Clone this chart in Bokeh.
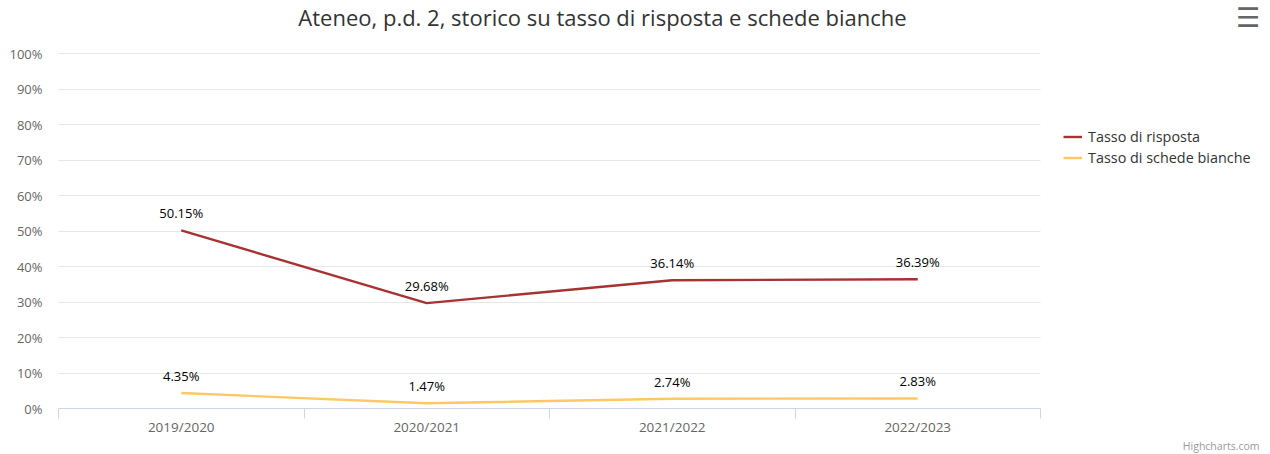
from bokeh.plotting import figure
from bokeh.models import (Range1d, FixedTicker, PrintfTickFormatter, Legend, LegendItem,
                          Label, Title, ColumnDataSource)
from bokeh.core.properties import value
from bokeh.embed import file_html
from bokeh.resources import INLINE

# ---- data ----
categories = ["2019/2020", "2020/2021", "2021/2022", "2022/2023"]
tasso_risposta = [50.15, 29.68, 36.14, 36.39]
tasso_bianche = [4.35, 1.47, 2.74, 2.83]
y_ticks = [0, 10, 20, 30, 40, 50, 60, 70, 80, 90, 100]
title_text = "Ateneo, p.d. 2, storico su tasso di risposta e schede bianche"
series_names = ["Tasso di risposta", "Tasso di schede bianche"]
credit_text = "Highcharts.com"

FONT = "Open Sans"
RED = "#a83232"
YEL = "#ffc864"

# ---- layout (pixels) ----
W, H = 1270, 454
LEFT, BOTTOM = 58, 46          # space for the y labels / x labels + credit
PLOT_W, PLOT_H = 982, 355      # the plotting area proper
n = len(categories)
band = PLOT_W / n
y_max = y_ticks[-1]
x_end = n - 0.5 + (W - LEFT - PLOT_W) / band                  # room for the legend on the right
y_end = y_max * (H - BOTTOM) / PLOT_H                          # room for the title on top

xs = list(range(n))

p = figure(width=W, height=H, output_backend="svg", toolbar_location=None,
           x_range=Range1d(-0.5, x_end), y_range=Range1d(0, y_end),
           min_border_left=LEFT, min_border_right=0, min_border_top=0, min_border_bottom=BOTTOM)
p.outline_line_color = None
p.background_fill_color = "white"
p.border_fill_color = "white"
p.grid.visible = False

# x axis: line and category separators limited to the plotting area
xa = p.xaxis[0]
xa.bounds = (-0.5, n - 0.5)
xa.ticker = FixedTicker(ticks=xs, minor_ticks=[x - 0.5 for x in xs] + [xs[-1] + 0.5])
xa.major_label_overrides = {i: c for i, c in enumerate(categories)}
xa.axis_line_color = "#ccd6eb"
xa.axis_line_width = 1
xa.major_tick_out = 0
xa.major_tick_in = 0
xa.minor_tick_out = 10
xa.minor_tick_in = 0
xa.minor_tick_line_color = "#ccd6eb"
xa.major_label_standoff = -1
xa.major_label_text_font = FONT
xa.major_label_text_font_size = "13.5px"
xa.major_label_text_color = "#666666"

# y axis: labels; its inward minor ticks act as the horizontal grid lines
ya = p.yaxis[0]
ya.ticker = FixedTicker(ticks=y_ticks, minor_ticks=y_ticks[1:])
ya.formatter = PrintfTickFormatter(format="%d%%")
ya.axis_line_color = None
ya.major_tick_out = 0
ya.major_tick_in = 0
ya.minor_tick_out = 0
ya.minor_tick_in = PLOT_W
ya.minor_tick_line_color = "#e6e6e6"
ya.minor_tick_line_width = 1
ya.major_label_standoff = 16
ya.major_label_text_font = FONT
ya.major_label_text_font_size = "13px"
ya.major_label_text_color = "#666666"

src = ColumnDataSource(dict(
    x=xs, r=tasso_risposta, b=tasso_bianche,
    rl=[f"{v:.2f}%" for v in tasso_risposta],
    bl=[f"{v:.2f}%" for v in tasso_bianche],
))

# series drawn above the axis-based grid lines
r1 = p.line("x", "r", source=src, line_color=RED, line_width=2.4, level="overlay")
r2 = p.line("x", "b", source=src, line_color=YEL, line_width=2.4, level="overlay")

for ycol, lcol in (("r", "rl"), ("b", "bl")):
    p.text("x", ycol, text=lcol, source=src, text_align="center", text_baseline="middle",
           y_offset=-17, text_font=value(FONT), text_font_size="13px", text_color="#000000",
           level="overlay")

legend = Legend(items=[LegendItem(label=series_names[0], renderers=[r1]),
                       LegendItem(label=series_names[1], renderers=[r2])],
                location=(PLOT_W + 23, 240), orientation="vertical")
legend.padding = 0
legend.margin = 0
legend.spacing = 0
legend.border_line_color = None
legend.background_fill_alpha = 0
legend.glyph_width = 19
legend.glyph_height = 21
legend.label_height = 21
legend.label_standoff = 6
legend.label_text_font = FONT
legend.label_text_font_size = "14.4px"
legend.label_text_color = "#333333"
p.add_layout(legend, "center")

# title and menu icon (positions relative to the plot area, in pixels)
p.add_layout(Label(x=544, y=PLOT_H + 37, x_units="screen", y_units="screen", text=title_text,
                   text_align="center", text_baseline="alphabetic", text_font=FONT,
                   text_font_size="22px", text_color="#333333"))
p.add_layout(Label(x=1189.5, y=PLOT_H + 36, x_units="screen", y_units="screen", text="\u2630",
                   text_align="center", text_baseline="middle", text_font="DejaVu Sans",
                   text_font_size="27px", text_font_style="bold", text_color="#666666"))

# credit under the x axis
p.add_layout(Title(text=credit_text, align="right", offset=11, vertical_align="top", standoff=0,
                   text_font=FONT, text_font_size="10.5px", text_font_style="normal",
                   text_color="#999999"), "below")

open("out.html", "w").write(file_html(p, INLINE))
